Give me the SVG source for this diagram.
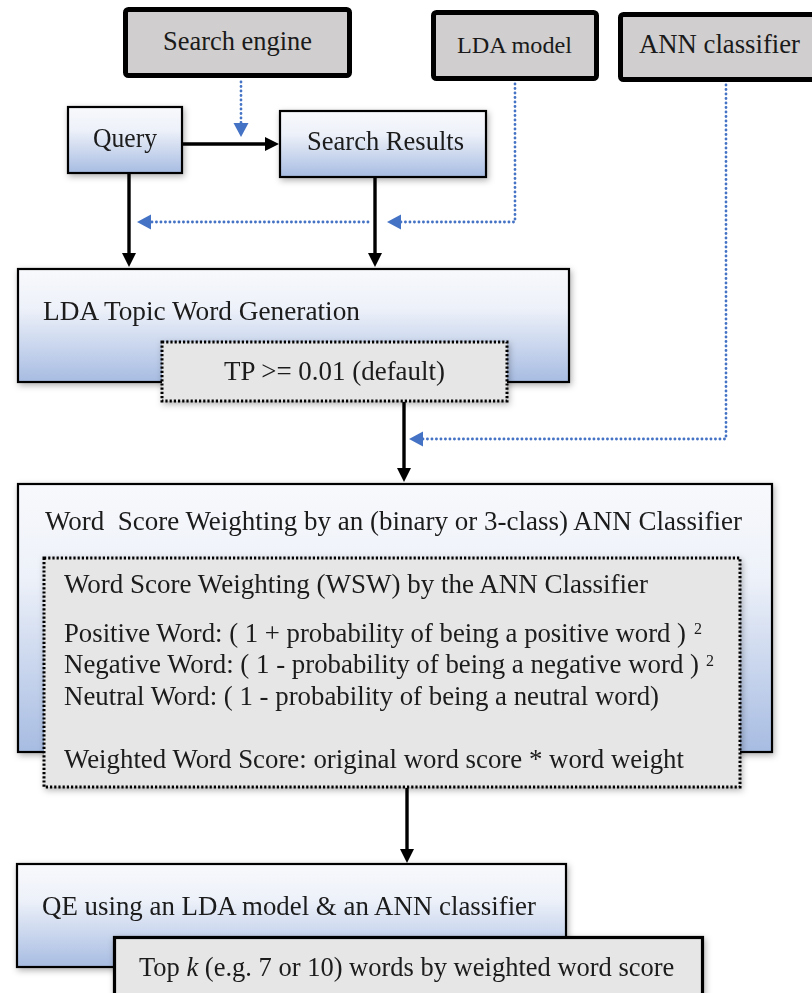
<svg xmlns="http://www.w3.org/2000/svg" width="812" height="993" viewBox="0 0 812 993">
<style>
text{font-family:"Liberation Serif","Times New Roman",serif;font-size:26.5px;fill:#1a1a1a}
.gray{fill:#d0cece;stroke:#000;stroke-width:5}
.blue{fill:url(#grad);stroke:#000;stroke-width:2.2}
.dot{fill:#e7e6e6;stroke:#000;stroke-width:3;stroke-dasharray:2.2 2}
.topk{fill:#e7e6e6;stroke:#000;stroke-width:3.2}
.arr{fill:none;stroke:#000;stroke-width:3.4}
.bdot{fill:none;stroke:#4472c4;stroke-width:2.8;stroke-linecap:round;stroke-dasharray:0.1 4.4}
</style>
<defs>
<linearGradient id="grad" x1="0" y1="0" x2="0" y2="1">
<stop offset="0" stop-color="#f8f9fc"/>
<stop offset="0.35" stop-color="#edf1f9"/>
<stop offset="1" stop-color="#a7bce2"/>
</linearGradient>
<filter id="sh" x="-10%" y="-15%" width="125%" height="140%">
<feDropShadow dx="1.5" dy="2.5" stdDeviation="3" flood-color="#000" flood-opacity="0.3"/>
</filter>
<marker id="ah" markerUnits="userSpaceOnUse" markerWidth="15" markerHeight="15" refX="6" refY="7" orient="auto">
<path d="M0,0 L14,7 L0,14 z" fill="#000"/>
</marker>
<marker id="bh" markerUnits="userSpaceOnUse" markerWidth="16" markerHeight="16" refX="6" refY="7.5" orient="auto">
<path d="M0,0 L14,7.5 L0,15 z" fill="#4472c4"/>
</marker>
</defs>
<rect width="812" height="993" fill="#fff"/>

<g id="connectors">
<path class="bdot" d="M241,82 V129" marker-end="url(#bh)"/>
<path class="bdot" d="M515,84 V222 H395" marker-end="url(#bh)"/>
<path class="bdot" d="M368,222 H145" marker-end="url(#bh)"/>
<path class="bdot" d="M726,85 V439 H417" marker-end="url(#bh)"/>
<path class="arr" d="M183,144 H271" marker-end="url(#ah)"/>
<path class="arr" d="M129,174 V259" marker-end="url(#ah)"/>
<path class="arr" d="M375,178 V259" marker-end="url(#ah)"/>
<path class="arr" d="M404,402 V474" marker-end="url(#ah)"/>
<path class="arr" d="M407,788 V855" marker-end="url(#ah)"/>
</g>

<g id="search-engine">
<rect class="gray" x="125.5" y="9.5" width="224" height="66" rx="3"/>
<text x="163" y="50" textLength="149" lengthAdjust="spacingAndGlyphs">Search engine</text>
</g>
<g id="lda-model">
<rect class="gray" x="433.5" y="12.5" width="163" height="66" rx="3"/>
<text x="457" y="53" style="font-size:24px" textLength="115" lengthAdjust="spacingAndGlyphs">LDA model</text>
</g>
<g id="ann-classifier">
<rect class="gray" x="620.5" y="14.5" width="220" height="65" rx="3"/>
<text x="639" y="53" textLength="161" lengthAdjust="spacingAndGlyphs">ANN classifier</text>
</g>

<g id="query" filter="url(#sh)">
<rect class="blue" x="68" y="107" width="114" height="66"/>
<text x="93" y="147" textLength="64" lengthAdjust="spacingAndGlyphs">Query</text>
</g>
<g id="search-results" filter="url(#sh)">
<rect class="blue" x="280" y="111" width="206" height="66"/>
<text x="307" y="150" textLength="157" lengthAdjust="spacingAndGlyphs">Search Results</text>
</g>

<g id="lda-topic" filter="url(#sh)">
<rect class="blue" x="18" y="269" width="551" height="113"/>
<text x="43" y="320" textLength="317" lengthAdjust="spacingAndGlyphs">LDA Topic Word Generation</text>
</g>
<g id="tp" filter="url(#sh)">
<rect class="dot" x="162" y="342" width="345" height="59"/>
<text x="224" y="380" textLength="221" lengthAdjust="spacingAndGlyphs">TP &gt;= 0.01 (default)</text>
</g>

<g id="wsw" filter="url(#sh)">
<rect class="blue" x="18" y="484" width="754" height="268"/>
<text x="45" y="530" xml:space="preserve" textLength="697" lengthAdjust="spacingAndGlyphs">Word  Score Weighting by an (binary or 3-class) ANN Classifier</text>
</g>
<g id="wsw-detail" filter="url(#sh)">
<rect class="dot" x="44" y="558" width="696" height="229"/>
<text x="64" y="593" textLength="584" lengthAdjust="spacingAndGlyphs">Word Score Weighting (WSW) by the ANN Classifier</text>
<text x="64" y="642"><tspan textLength="622" lengthAdjust="spacingAndGlyphs">Positive Word: ( 1 + probability of being a positive word )</tspan><tspan x="694" y="634" style="font-size:16px">2</tspan></text>
<text x="64" y="673"><tspan textLength="635" lengthAdjust="spacingAndGlyphs">Negative Word: ( 1 - probability of being a negative word )</tspan><tspan x="706" y="666" style="font-size:16px">2</tspan></text>
<text x="64" y="705" textLength="595" lengthAdjust="spacingAndGlyphs">Neutral Word: ( 1 - probability of being a neutral word)</text>
<text x="64" y="768" textLength="620" lengthAdjust="spacingAndGlyphs">Weighted Word Score: original word score * word weight</text>
</g>

<g id="qe" filter="url(#sh)">
<rect class="blue" x="17" y="864" width="549" height="103"/>
<text x="42" y="915" textLength="494" lengthAdjust="spacingAndGlyphs">QE using an LDA model &amp; an ANN classifier</text>
</g>
<g id="top-k" filter="url(#sh)">
<rect class="topk" x="114.5" y="937.5" width="588" height="70"/>
<text x="139" y="976">Top <tspan style="font-style:italic">k</tspan> (e.g. 7 or 10) words by weighted word score</text>
</g>
</svg>
